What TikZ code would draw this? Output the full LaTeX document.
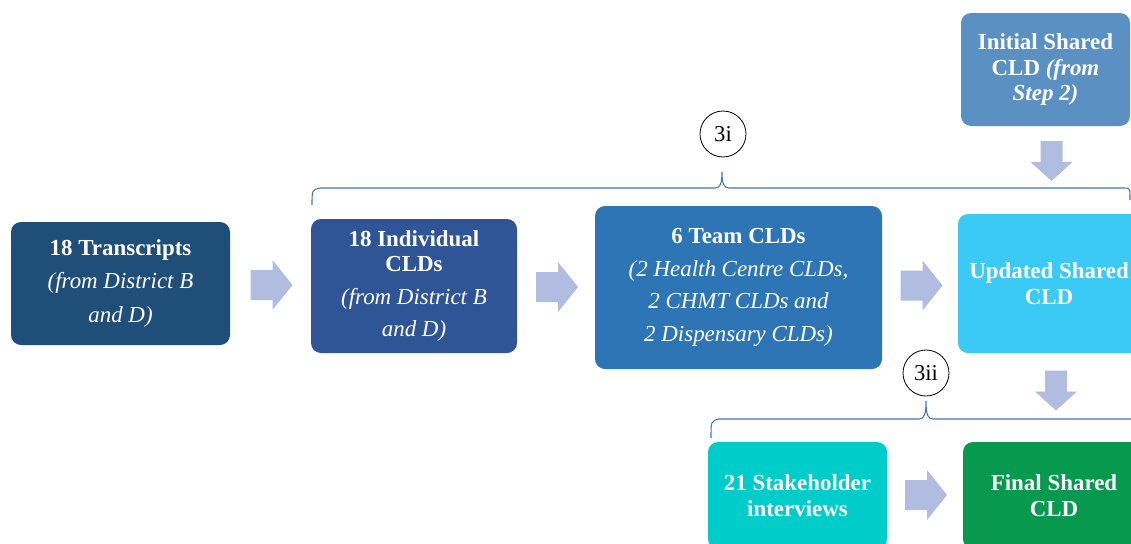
\documentclass[tikz,border=0pt]{standalone}
\usepackage{fontspec}
\setmainfont{Liberation Serif}
\definecolor{cA}{HTML}{1F4E79}
\definecolor{cB}{HTML}{2F5597}
\definecolor{cC}{HTML}{2E75B6}
\definecolor{cInit}{HTML}{5B90C3}
\definecolor{cUpd}{HTML}{3BCAF6}
\definecolor{cStake}{HTML}{00CDC9}
\definecolor{cFinal}{HTML}{07994D}
\definecolor{arrowc}{HTML}{B1BDE0}
\definecolor{bracec}{HTML}{4472C4}
\tikzset{
  box/.style n args={3}{draw=none, fill=#3, text=white, rounded corners=7.5pt,
    minimum width=#1*0.75pt, minimum height=#2*0.75pt, inner sep=0pt, align=center,
    font=\fontsize{17.2}{19}\selectfont},
  stepcircle/.style={draw=black, circle, line width=0.6pt, minimum size=34.5pt, inner sep=0pt,
    font=\fontsize{17}{19}\selectfont},
  bracepath/.style={draw=bracec, line width=0.8pt},
  rarr/.pic={\fill[arrowc] (-21,-15) -- (1,-15) -- (1,-25) -- (21,0) -- (1,25) -- (1,15) -- (-21,15) -- cycle;},
  darr/.pic={\fill[arrowc] (-11,-20) -- (11,-20) -- (11,1) -- (21,1) -- (0,20) -- (-21,1) -- (-11,1) -- cycle;}
}
\begin{document}
\begin{tikzpicture}[x=0.75pt,y=-0.75pt]
\useasboundingbox (0,0) rectangle (1131,543);
\clip (0,0) rectangle (1131,543);
% boxes
\node[box={219}{123}{cA}] (t) at (120.5,283.5)
  {{\bfseries 18 Transcripts}\\[5.5pt]{\itshape (from District B}\\[6.5pt]{\itshape and D)}};
\node[box={206}{134}{cB}] (i) at (414,286)
  {{\bfseries 18 Individual}\\{\bfseries CLDs}\\[5.5pt]{\itshape (from District B}\\[5.5pt]{\itshape and D)}};
\node[box={287}{163}{cC}] (c) at (738.5,287.5)
  {{\bfseries 6 Team CLDs}\\[5.5pt]{\itshape (2 Health Centre CLDs,}\\[5.5pt]{\itshape 2 CHMT CLDs and}\\[5.5pt]{\itshape 2 Dispensary CLDs)}};
\node[box={169}{113}{cInit}] (init) at (1045.5,69.5)
  {{\bfseries Initial Shared}\\{\bfseries CLD \itshape(from}\\{\bfseries\itshape Step 2)}};
\node[box={182}{139}{cUpd}] (u) at (1049,283.5)
  {{\bfseries Updated Shared}\\{\bfseries CLD}};
\node[box={179}{107}{cStake}] (s) at (797.5,495.5)
  {{\bfseries 21 Stakeholder}\\{\bfseries interviews}};
\node[box={182}{107}{cFinal}] (f) at (1054,495.5)
  {{\bfseries Final Shared}\\{\bfseries CLD}};
% block arrows
\pic at (271.5,285) {rarr};
\pic at (557,287) {rarr};
\pic at (921.5,285.5) {rarr};
\pic at (926,495) {rarr};
\pic at (1051.5,161) {darr};
\pic at (1056,390.5) {darr};
% step labels
\node[stepcircle] (n3i) at (723,134) {3i};
\node[stepcircle] (n3ii) at (926,373) {3ii};
% braces
\draw[bracepath] (312,205) .. controls (312,190) .. (320,188) -- (715,188)
  .. controls (720,188) and (722,184) .. (722,172)
  .. controls (722,184) and (724,188) .. (729,188) -- (1124,188)
  .. controls (1130,188) .. (1130,200);
\draw[bracepath] (711,438) .. controls (711,421) .. (719,419) -- (919,419)
  .. controls (924,419) and (926,415) .. (926,401)
  .. controls (926,415) and (928,419) .. (933,419) -- (1140,419);
\end{tikzpicture}
\end{document}
